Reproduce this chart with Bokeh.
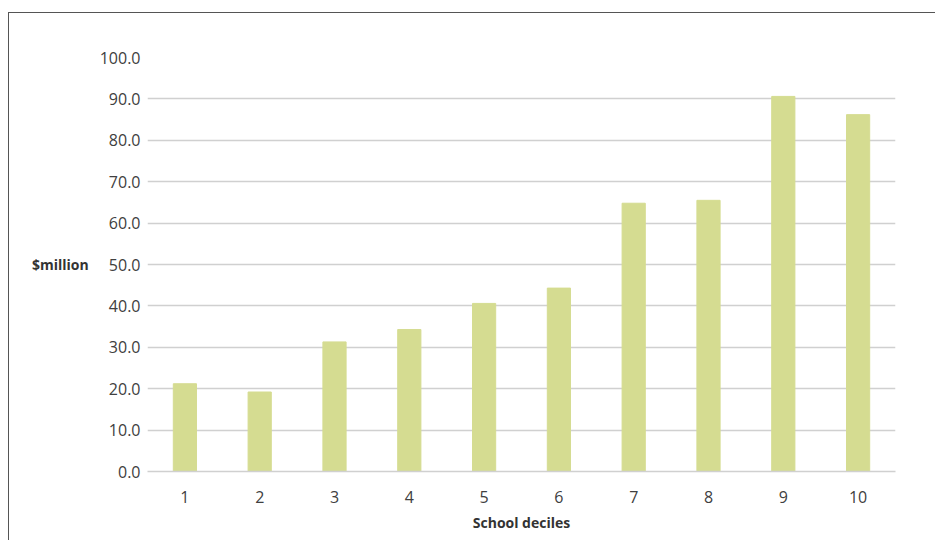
from bokeh.plotting import figure
from bokeh.models import FactorRange, Range1d, FixedTicker, NumeralTickFormatter
from bokeh.embed import file_html
from bokeh.resources import INLINE

deciles = ["1", "2", "3", "4", "5", "6", "7", "8", "9", "10"]
spending = [21.2, 19.2, 31.3, 34.3, 40.6, 44.3, 64.8, 65.5, 90.6, 86.2]
y_ticks = [0, 10, 20, 30, 40, 50, 60, 70, 80, 90, 100]

p = figure(x_range=FactorRange(*deciles), y_range=Range1d(0, 100),
           width=927, height=528, output_backend="svg", toolbar_location=None,
           min_border_left=138, min_border_right=41, min_border_top=44, min_border_bottom=70)
p.margin = (12, 0, 0, 8)
p.styles = {"border-top": "1.5px solid #555555", "border-left": "1.5px solid #555555"}

p.vbar(x=deciles, top=spending, width=0.31, fill_color="#d5dc91", line_color="#d5dc91")

p.outline_line_color = None
p.xgrid.grid_line_color = None
p.ygrid.grid_line_color = "#d0d0d0"
p.ygrid.grid_line_width = 1.5
p.ygrid.ticker = FixedTicker(ticks=y_ticks)

p.yaxis.ticker = FixedTicker(ticks=y_ticks)
p.yaxis.formatter = NumeralTickFormatter(format="0.0")
p.yaxis.axis_line_color = None
p.yaxis.major_tick_line_color = None
p.yaxis.minor_tick_line_color = None
p.yaxis.major_tick_out = 0
p.yaxis.major_label_standoff = 7
p.yaxis.major_label_text_font = "Open Sans"
p.yaxis.major_label_text_font_size = "16px"
p.yaxis.major_label_text_color = "#404040"
p.yaxis.axis_label = "$million"
p.yaxis.axis_label_orientation = "horizontal"
p.yaxis.axis_label_text_font = "Open Sans"
p.yaxis.axis_label_text_font_style = "bold"
p.yaxis.axis_label_text_font_size = "14px"
p.yaxis.axis_label_text_color = "#333333"
p.yaxis.axis_label_standoff = 8

p.xaxis.axis_line_color = "#d0d0d0"
p.xaxis.axis_line_width = 1.5
p.xaxis.major_tick_line_color = None
p.xaxis.minor_tick_line_color = None
p.xaxis.major_label_standoff = 13
p.xaxis.major_label_text_font = "Open Sans"
p.xaxis.major_label_text_font_size = "16px"
p.xaxis.major_label_text_color = "#404040"
p.xaxis.axis_label = "School deciles"
p.xaxis.axis_label_text_font = "Open Sans"
p.xaxis.axis_label_text_font_style = "bold"
p.xaxis.axis_label_text_font_size = "14px"
p.xaxis.axis_label_text_color = "#333333"
p.xaxis.axis_label_standoff = 7

open("out.html", "w").write(file_html(p, INLINE))
